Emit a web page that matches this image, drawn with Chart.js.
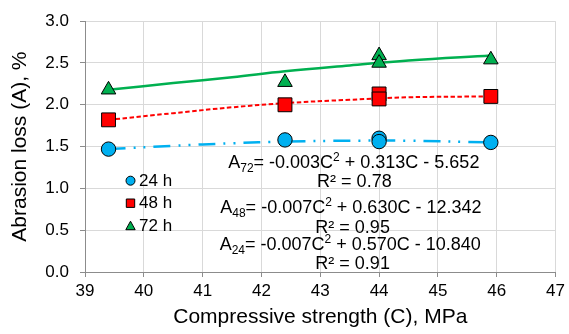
<!DOCTYPE html>
<html>
<head>
<meta charset="utf-8">
<script src="https://cdn.jsdelivr.net/npm/chart.js@4.4.1/dist/chart.umd.min.js"></script>
<style>
  html, body { margin: 0; padding: 0; background: #fff; }
  #wrap { width: 569px; height: 334px; }
</style>
</head>
<body>
<div id="wrap"><canvas id="myChart"></canvas></div>
<script>
// measured points
const strength = [39.4, 42.4, 44.0, 44.0, 45.9];
const loss24 = [1.47, 1.58, 1.60, 1.56, 1.55];
const loss48 = [1.82, 2.00, 2.13, 2.07, 2.10];
const loss72 = [2.18, 2.27, 2.59, 2.50, 2.54];

// trend lines
const fitStrength = [39.4, 40.5, 41.5, 42.4, 43.5, 44.5, 45.9];
const fit24 = [1.47, 1.51, 1.54, 1.56, 1.57, 1.57, 1.55];
const fit48 = [1.82, 1.90, 1.97, 2.02, 2.06, 2.09, 2.10];
const fit72 = [2.18, 2.26, 2.33, 2.40, 2.47, 2.53, 2.59];

const xTicks = [39, 40, 41, 42, 43, 44, 45, 46, 47];
const yTicks = [0, 0.5, 1.0, 1.5, 2.0, 2.5, 3.0];
const seriesNames = ['24 h', '48 h', '72 h'];

const BLUE = '#00B0F0', RED = '#FF0000', GREEN = '#00B050';
const FONT = "'Liberation Sans', Arial, sans-serif";

function pts(xs, ys) {
    return xs.map((x, i) => ({x: x, y: ys[i]}));
}

// equation labels: [x value, y value, parts]
const equations = [
    [43.57, 1.326, [['A'], ['72', 'sub'], ['= -0.003C'], ['2', 'sup'], [' + 0.313C - 5.652']]],
    [43.58, 1.092, [['R² = 0.78']]],
    [43.52, 0.780, [['A'], ['48', 'sub'], ['= -0.007C'], ['2', 'sup'], [' + 0.630C - 12.342']]],
    [43.55, 0.545, [['R² = 0.95']]],
    [43.51, 0.338, [['A'], ['24', 'sub'], ['= -0.007C'], ['2', 'sup'], [' + 0.570C - 10.840']]],
    [43.55, 0.114, [['R² = 0.91']]]
];

const equationPlugin = {
    id: 'equations',
    afterDatasetsDraw(chart) {
        const ctx = chart.ctx;
        const xs = chart.scales.x, ys = chart.scales.y;
        ctx.save();
        ctx.fillStyle = '#000';
        ctx.textBaseline = 'alphabetic';
        ctx.textAlign = 'left';
        equations.forEach(eq => {
            const cx = xs.getPixelForValue(eq[0]);
            const cy = ys.getPixelForValue(eq[1]);
            const base = cy + 6.4;
            let w = 0;
            eq[2].forEach(p => {
                ctx.font = (p[1] ? '12px ' : '18px ') + FONT;
                w += ctx.measureText(p[0]).width;
            });
            let x = cx - w / 2;
            eq[2].forEach(p => {
                ctx.font = (p[1] ? '12px ' : '18px ') + FONT;
                let y = base;
                if (p[1] === 'sub') y = base + 4;
                if (p[1] === 'sup') y = base - 7;
                ctx.fillText(p[0], x, y);
                x += ctx.measureText(p[0]).width;
            });
        });
        ctx.restore();
    }
};

const legendPlugin = {
    id: 'insideLegend',
    afterDraw(chart) {
        const ctx = chart.ctx;
        const area = chart.chartArea;
        const mx = area.left + 45.5, tx = area.left + 54;
        const rows = [area.top + 159.5, area.top + 182, area.top + 204.5];
        const fills = [BLUE, RED, GREEN];
        ctx.save();
        ctx.lineWidth = 1;
        ctx.strokeStyle = '#000';
        rows.forEach((y, i) => {
            ctx.fillStyle = fills[i];
            ctx.beginPath();
            if (i === 0) {
                ctx.arc(mx, y, 4.5, 0, Math.PI * 2);
            } else if (i === 1) {
                ctx.rect(mx - 4.2, y - 4.2, 8.4, 8.4);
            } else {
                ctx.moveTo(mx, y - 4.5);
                ctx.lineTo(mx + 4.7, y + 4);
                ctx.lineTo(mx - 4.7, y + 4);
                ctx.closePath();
            }
            ctx.fill();
            ctx.stroke();
            ctx.fillStyle = '#000';
            ctx.font = '17px ' + FONT;
            ctx.textBaseline = 'middle';
            ctx.fillText(seriesNames[i], tx, y + 0.5);
        });
        ctx.restore();
    }
};

function drawChart() {
    var ctx = document.getElementById('myChart').getContext('2d');
    var myChart = new Chart(ctx, {
        type: 'scatter',
        data: {
            datasets: [
                {label: seriesNames[0], data: pts(strength, loss24), backgroundColor: BLUE, borderColor: '#000',
                 borderWidth: 1, pointStyle: 'circle', pointRadius: 7.2, order: 1},
                {label: seriesNames[1], data: pts(strength, loss48), backgroundColor: RED, borderColor: '#000',
                 borderWidth: 1, pointStyle: 'rect', pointRadius: 9.8, order: 1},
                {label: seriesNames[2], data: pts(strength, loss72), backgroundColor: GREEN, borderColor: '#000',
                 borderWidth: 1, pointStyle: 'triangle', pointRadius: 8.4, order: 1},
                {data: pts(fitStrength, fit24), showLine: true, pointRadius: 0, borderColor: BLUE,
                 borderWidth: 2.5, borderDash: [17, 8, 2, 8, 2, 8], tension: 0.4, order: 2},
                {data: pts(fitStrength, fit48), showLine: true, pointRadius: 0, borderColor: RED,
                 borderWidth: 2, borderDash: [4.5, 2.5], tension: 0.4, order: 2},
                {data: pts(fitStrength, fit72), showLine: true, pointRadius: 0, borderColor: GREEN,
                 borderWidth: 2.5, tension: 0.4, order: 2}
            ]
        },
        options: {
            responsive: true,
            maintainAspectRatio: false,
            animation: false,
            layout: {padding: {left: 0, right: 11, top: 17, bottom: 0}},
            plugins: {legend: {display: false}, tooltip: {enabled: false}},
            scales: {
                x: {
                    type: 'linear', min: 39, max: 47,
                    afterBuildTicks: s => { s.ticks = xTicks.map(v => ({value: v})); },
                    afterFit: s => { s.height = 62; },
                    grid: {color: '#d9d9d9', tickColor: '#8c8c8c', tickLength: 5},
                    border: {color: '#8c8c8c', width: 1},
                    ticks: {color: '#000', font: {family: FONT, size: 17}, padding: 4, maxRotation: 0},
                    title: {display: true, text: 'Compressive strength (C), MPa', color: '#000',
                            font: {family: FONT, size: 21}, padding: {top: 4, bottom: 4}}
                },
                y: {
                    type: 'linear', min: 0, max: 3,
                    afterBuildTicks: s => { s.ticks = yTicks.map(v => ({value: v})); },
                    afterFit: s => { s.width = 85; },
                    grid: {color: '#d9d9d9', tickColor: '#8c8c8c', tickLength: 5},
                    border: {color: '#8c8c8c', width: 1},
                    ticks: {color: '#000', font: {family: FONT, size: 17}, padding: 11,
                            callback: v => Number(v).toFixed(1)},
                    title: {display: true, text: 'Abrasion loss (A), %', color: '#000',
                            font: {family: FONT, size: 21}, padding: {top: 8, bottom: 4}}
                }
            }
        },
        plugins: [equationPlugin, legendPlugin]
    });
}

drawChart();
</script>
</body>
</html>
